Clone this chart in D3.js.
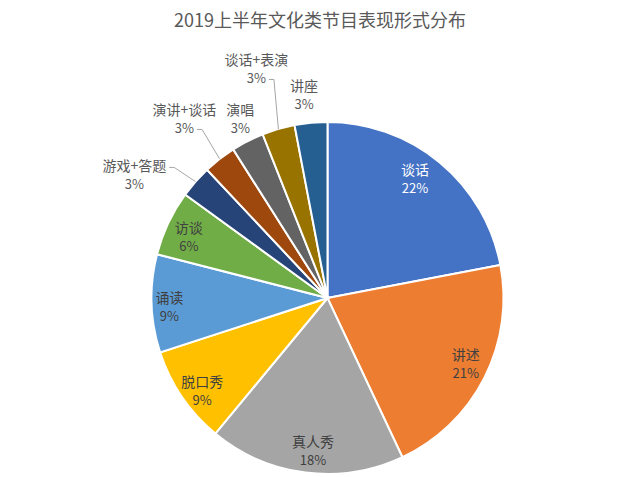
<!DOCTYPE html>
<html>
<head>
<meta charset="utf-8">
<script src="https://cdn.jsdelivr.net/npm/d3@7"></script>
<style>
  body { margin: 0; background: #fff; }
  text { font-family: "Noto Sans CJK SC", "Noto Sans", sans-serif; }
</style>
</head>
<body>
<div id="chart"></div>
<script>
// data
const categories = ['谈话', '讲述', '真人秀', '脱口秀', '诵读', '访谈', '游戏+答题', '演讲+谈话', '演唱', '谈话+表演', '讲座']
const shares = [22, 21, 18, 9, 9, 6, 3, 3, 3, 3, 3]
const colors = ['#4472C4', '#ED7D31', '#A5A5A5', '#FFC000', '#5B9BD5', '#70AD47', '#264478', '#9E480E', '#636363', '#997300', '#255E91']

// label layout: angle offset (deg), radius factor, leader line attached to text line (null = none)
const labelLayout = [
  { off: -3.3, rf: 0.84, inside: true, light: true },
  { off: -1.5, rf: 0.87, inside: true },
  { off: -1.8, rf: 0.875, inside: true },
  { off: -2.3, rf: 0.886, inside: true },
  { off: -1.5, rf: 0.90, inside: true },
  { off: -1.6, rf: 0.86, inside: true },
  { off: -9, rf: 1.30, leader: 0 },
  { off: -0.9, rf: 1.30, leader: 1 },
  { off: 1, rf: 1.13 },
  { off: -1.1, rf: 1.36, leader: 1 },
  { off: -1.2, rf: 1.16 }
]

const width = 640
const height = 477
const cx = 327.5
const cy = 298
const radius = 176

const svg = d3.select('#chart')
  .append('svg')
  .attr('width', width)
  .attr('height', height)

svg.append('text')
  .attr('x', 320)
  .attr('y', 27)
  .attr('text-anchor', 'middle')
  .attr('font-size', 18)
  .attr('fill', '#595959')
  .text('2019上半年文化类节目表现形式分布')

const data = categories.map(function (c, i) { return { name: c, value: shares[i], i: i } })

const pie = d3.pie()
  .value(function (d) { return d.value })
  .sort(null)

const arc = d3.arc()
  .innerRadius(0)
  .outerRadius(radius)

const g = svg.append('g')
  .attr('transform', 'translate(' + cx + ',' + cy + ')')

const arcs = pie(data)

g.selectAll('path.slice')
  .data(arcs)
  .enter()
  .append('path')
  .attr('class', 'slice')
  .attr('d', arc)
  .attr('fill', function (d) { return colors[d.data.i] })
  .attr('stroke', '#fff')
  .attr('stroke-width', 2)

function polar (angle, r) {
  return [r * Math.sin(angle), -r * Math.cos(angle)]
}

const fmt = d3.format('.0f')

arcs.forEach(function (d) {
  const lay = labelLayout[d.data.i]
  const mid = (d.startAngle + d.endAngle) / 2
  const p = polar(mid + lay.off * Math.PI / 180, radius * lay.rf)
  const fill = lay.light ? '#ffffff' : (lay.inside ? '#404040' : '#595959')
  const t = g.append('text')
    .attr('text-anchor', 'middle')
    .attr('font-size', 14)
    .attr('fill', fill)
  const l1 = t.append('tspan')
    .attr('x', p[0])
    .attr('y', p[1] - 4)
    .text(d.data.name)
  const l2 = t.append('tspan')
    .attr('x', p[0])
    .attr('y', p[1] + 14)
    .attr('font-size', 13)
    .text(fmt(d.data.value) + '%')

  if (lay.leader !== undefined && lay.leader !== null) {
    const line = lay.leader === 0 ? l1 : l2
    const w = line.node().getComputedTextLength()
    const ly = (lay.leader === 0 ? p[1] - 4 : p[1] + 14) - 4
    const x0 = p[0] + w / 2 + 3
    const edge = polar(mid, radius)
    g.append('path')
      .attr('d', d3.line()([[x0, ly], [x0 + 5, ly], edge]))
      .attr('fill', 'none')
      .attr('stroke', '#a6a6a6')
      .attr('stroke-width', 1)
  }
})
</script>
</body>
</html>
